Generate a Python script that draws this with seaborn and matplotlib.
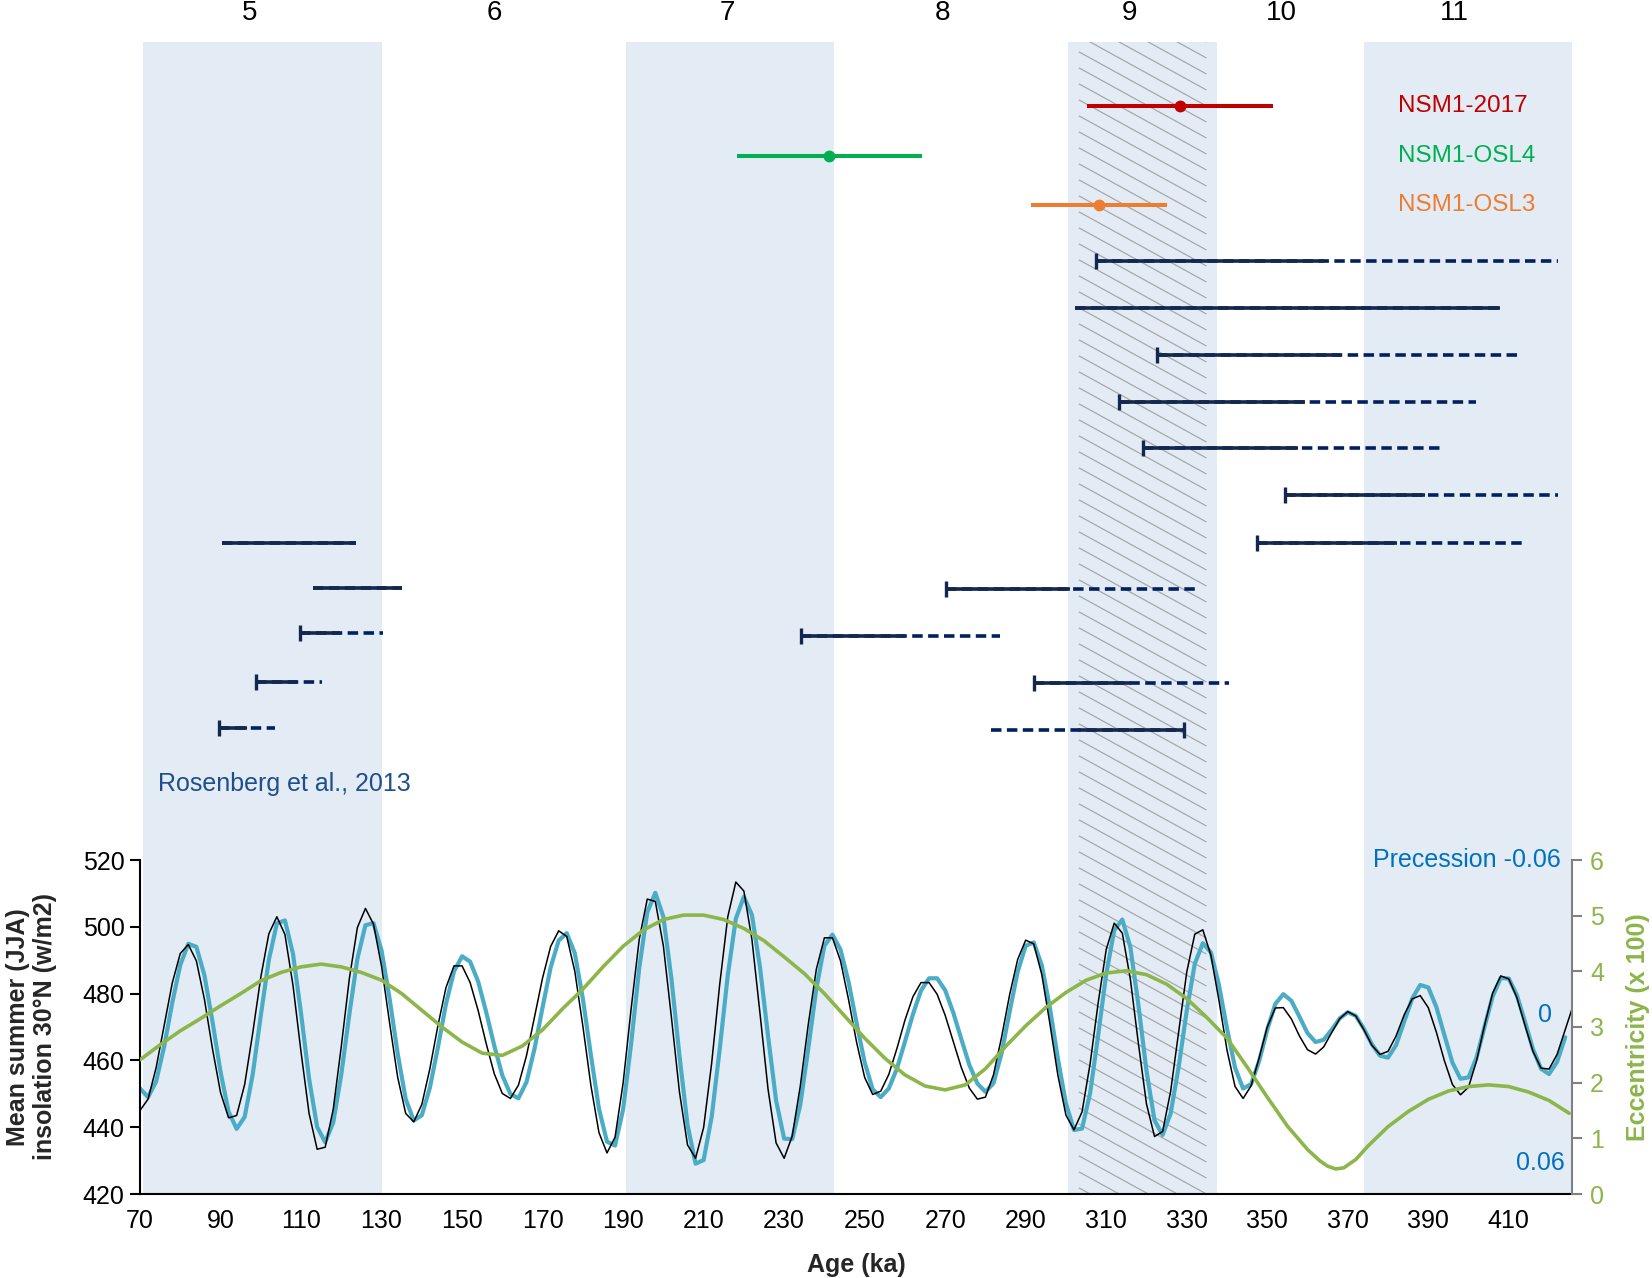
import numpy as np
import pandas as pd
import seaborn as sns
import matplotlib.pyplot as plt
from matplotlib.patches import Rectangle
from matplotlib.collections import LineCollection

sns.set_theme(style='white')
plt.rcParams['font.family'] = ['Liberation Sans', 'DejaVu Sans']

# ---- insolation / orbital data ----
ins_age = np.arange(70, 427, 2)
insolation = [
    445.0, 448.4, 457.8, 470.5, 483.1, 492.0, 494.7, 489.8, 478.3, 463.5,
    450.4, 442.8, 443.5, 452.8, 468.2, 484.9, 497.9, 503.0, 497.7, 482.5,
    462.5, 444.1, 433.4, 434.0, 445.4, 464.2, 484.5, 499.8, 505.5, 500.8,
    488.2, 471.2, 455.0, 444.1, 441.6, 446.8, 457.5, 470.4, 481.8, 488.3,
    488.3, 483.3, 474.9, 465.0, 456.0, 450.1, 448.6, 452.6, 461.4, 473.0,
    484.7, 494.1, 498.8, 497.1, 486.7, 470.3, 452.5, 438.4, 432.3, 437.0,
    453.2, 475.5, 496.2, 508.3, 507.6, 494.3, 472.9, 450.5, 434.7, 430.7,
    439.9, 459.2, 482.8, 503.0, 513.4, 510.7, 496.2, 474.1, 451.4, 435.3,
    430.7, 437.3, 452.2, 470.8, 487.3, 496.7, 496.7, 489.8, 478.2, 465.4,
    454.9, 449.8, 450.8, 455.8, 463.5, 472.0, 479.1, 483.3, 483.3, 479.8,
    473.5, 465.7, 457.9, 451.7, 448.4, 449.0, 455.7, 466.9, 479.6, 490.2,
    496.0, 494.9, 485.7, 471.1, 455.5, 443.6, 439.2, 444.6, 459.0, 477.2,
    493.2, 501.1, 498.1, 484.3, 465.0, 447.0, 437.2, 438.7, 450.7, 468.6,
    486.4, 497.8, 499.1, 491.5, 478.0, 463.1, 452.2, 448.6, 452.4, 460.8,
    470.0, 475.7, 475.8, 472.4, 467.3, 463.2, 461.9, 464.0, 468.3, 472.5,
    474.6, 473.3, 469.2, 464.5, 461.8, 462.7, 467.3, 473.6, 478.4, 479.4,
    475.8, 468.5, 459.9, 452.8, 449.7, 452.0, 459.9, 470.6, 480.2, 485.3,
    484.4, 478.8, 470.6, 462.7, 457.7, 457.4, 461.8, 469.2, 476.5,
]

prec_age = np.arange(70, 425, 2)
precession = [
    0.0221, 0.0252, 0.0196, 0.0070, -0.0086, -0.0223, -0.0299, -0.0288, -0.0186, -0.0020,
    0.0161, 0.0304, 0.0366, 0.0323, 0.0170, -0.0041, -0.0241, -0.0372, -0.0383, -0.0263,
    -0.0049, 0.0186, 0.0359, 0.0414, 0.0343, 0.0170, -0.0046, -0.0245, -0.0366, -0.0373,
    -0.0275, -0.0102, 0.0095, 0.0259, 0.0336, 0.0317, 0.0218, 0.0073, -0.0083, -0.0200,
    -0.0254, -0.0235, -0.0163, -0.0053, 0.0067, 0.0174, 0.0241, 0.0256, 0.0198, 0.0078,
    -0.0071, -0.0214, -0.0311, -0.0337, -0.0265, -0.0102, 0.0101, 0.0294, 0.0412, 0.0426,
    0.0296, 0.0059, -0.0211, -0.0412, -0.0482, -0.0396, -0.0174, 0.0103, 0.0352, 0.0491,
    0.0478, 0.0323, 0.0079, -0.0186, -0.0389, -0.0468, -0.0403, -0.0215, 0.0032, 0.0264,
    0.0401, 0.0403, 0.0280, 0.0077, -0.0138, -0.0292, -0.0332, -0.0278, -0.0162, -0.0014,
    0.0127, 0.0224, 0.0252, 0.0221, 0.0150, 0.0053, -0.0046, -0.0131, -0.0175, -0.0175,
    -0.0132, -0.0052, 0.0043, 0.0136, 0.0203, 0.0233, 0.0202, 0.0095, -0.0054, -0.0198,
    -0.0292, -0.0304, -0.0222, -0.0070, 0.0114, 0.0275, 0.0370, 0.0365, 0.0238, 0.0030,
    -0.0190, -0.0348, -0.0386, -0.0287, -0.0079, 0.0157, 0.0335, 0.0388, 0.0311, 0.0143,
    -0.0058, -0.0227, -0.0301, -0.0268, -0.0151, 0.0005, 0.0146, 0.0221, 0.0205, 0.0122,
    0.0010, -0.0083, -0.0118, -0.0094, -0.0037, 0.0022, 0.0054, 0.0046, 0.0010, -0.0031,
    -0.0053, -0.0040, 0.0006, 0.0062, 0.0103, 0.0110, 0.0065, -0.0019, -0.0102, -0.0151,
    -0.0142, -0.0072, 0.0029, 0.0128, 0.0186, 0.0181, 0.0109, -0.0002, -0.0110, -0.0176,
    -0.0174, -0.0115, -0.0020, 0.0079, 0.0150, 0.0169, 0.0125, 0.0037,
]

ecc_age = [
    70, 75, 80, 85, 90, 95, 100, 105, 110, 115,
    120, 125, 130, 135, 140, 145, 150, 155, 160, 165,
    170, 175, 180, 185, 190, 195, 200, 205, 210, 215,
    220, 225, 230, 235, 240, 245, 250, 255, 260, 265,
    270, 275, 280, 285, 290, 295, 300, 305, 310, 315,
    320, 325, 330, 335, 340, 345, 350, 355, 360, 363,
    365, 367, 369, 372, 375, 380, 385, 390, 395, 400,
    405, 410, 415, 420, 425,
]
eccentricity = [
    2.41, 2.68, 2.93, 3.15, 3.38, 3.60, 3.83, 3.98, 4.08, 4.13,
    4.08, 3.98, 3.84, 3.60, 3.30, 3.00, 2.73, 2.53, 2.49, 2.66,
    2.95, 3.33, 3.68, 4.08, 4.45, 4.74, 4.93, 5.01, 5.01, 4.93,
    4.77, 4.55, 4.26, 3.96, 3.60, 3.20, 2.80, 2.44, 2.14, 1.94,
    1.87, 1.96, 2.25, 2.65, 3.02, 3.35, 3.62, 3.84, 3.97, 4.01,
    3.94, 3.77, 3.51, 3.17, 2.80, 2.28, 1.74, 1.22, 0.80, 0.60,
    0.50, 0.45, 0.47, 0.62, 0.86, 1.21, 1.48, 1.70, 1.85, 1.93,
    1.96, 1.93, 1.83, 1.68, 1.45,
]

# ---- marine isotope stages ----
mis_names = ['5', '6', '7', '8', '9', '10', '11']
mis_label_age = [97.2, 157.9, 215.9, 269.3, 315.9, 353.4, 396.6]
interglacial_lo = [70.8, 190.7, 300.4, 374.0]
interglacial_hi = [130.2, 242.3, 337.6, 426.0]
hatch_lo, hatch_hi = 303.2, 334.9

# ---- dated samples ----
samples = ['NSM1-2017', 'NSM1-OSL4', 'NSM1-OSL3']
sample_age = [328.4, 241.2, 308.2]
sample_min = [305.3, 218.2, 291.2]
sample_max = [351.4, 264.2, 325.2]
sample_row = [0.0, 1.06, 2.12]
sample_colors = ['#c00000', '#00b050', '#ed7d31']

# ---- Rosenberg et al. (2013) speleothem ages ----
ros_row = [3.32, 4.31, 5.32, 6.32, 7.31, 8.33, 9.34, 9.34,
           10.31, 10.33, 11.27, 11.35, 12.33, 12.35, 13.32, 13.35]
ros_solid_lo = [307.4, 302.2, 322.6, 313.2, 319.2, 354.3, 90.4, 347.5,
                112.9, 270.3, 109.7, 234.1, 98.8, 292.1, 89.7, 303.1]
ros_solid_hi = [364.2, 407.7, 368.2, 359.3, 357.7, 389.1, 123.6, 382.3,
                135.1, 301.0, 119.6, 260.0, 108.9, 316.3, 96.5, 329.3]
ros_dash_lo = [307.4, 302.2, 322.6, 313.2, 319.2, 354.3, 90.4, 347.5,
               112.9, 270.3, 109.7, 234.1, 98.8, 292.1, 89.7, 281.3]
ros_dash_hi = [422.1, 407.7, 412.2, 401.9, 393.8, 422.1, 123.6, 413.7,
               135.1, 332.3, 130.3, 283.6, 115.3, 340.5, 103.5, 329.3]
ros_cap = [307.4, np.nan, 322.6, 313.2, 319.2, 354.3, np.nan, 347.5,
           np.nan, 270.3, 109.7, 234.1, 98.8, 292.1, 89.7, 329.3]

# ---- colours ----
band_color = '#e3ebf5'
navy = '#002060'
navy_dark = '#14284e'
ins_color = 'black'
prec_color = '#4bacc6'
ecc_color = '#8cb54a'
prec_text = '#0070c0'

W, H = 1652, 1278
fig = plt.figure(figsize=(W / 100, H / 100), dpi=100)
x0, x1 = 140, 1572
top_y, mid_y, bot_y = 42, 860, 1194
xlim = (70, 425.7)

def frac(ytop, ybot):
    return [x0 / W, 1 - ybot / H, (x1 - x0) / W, (ybot - ytop) / H]

# background: interglacial bands and hatching across both panels
ax_bg = fig.add_axes(frac(top_y, bot_y), zorder=-1)
ax_bg.set_xlim(*xlim)
ax_bg.set_ylim(0, 1)
ax_bg.axis('off')
for lo, hi in zip(interglacial_lo, interglacial_hi):
    ax_bg.axvspan(lo, hi, color=band_color, lw=0)
px_per_ka = (x1 - x0) / (xlim[1] - xlim[0])
hpx = bot_y - top_y
drop = 0.55 * px_per_ka / hpx
spacing = 16 / hpx
segs = []
for y in np.arange(1 + drop * (hatch_hi - hatch_lo), -spacing, -spacing):
    segs.append([(hatch_lo, y), (hatch_hi, y - drop * (hatch_hi - hatch_lo))])
lc = LineCollection(segs, colors='#a8a8a8', linewidths=0.9)
clip = Rectangle((hatch_lo, 0), hatch_hi - hatch_lo, 1, transform=ax_bg.transData)
lc.set_clip_path(clip)
ax_bg.add_collection(lc)

# ---- top panel: age ranges ----
ax_top = fig.add_axes(frac(top_y, mid_y))
ax_top.patch.set_visible(False)
ax_top.set_xlim(*xlim)
r_unit = 46.7
ax_top.set_ylim((mid_y - 106.4) / r_unit, (top_y - 106.4) / r_unit)
ax_top.axis('off')

for name, x in zip(mis_names, mis_label_age):
    ax_top.text(x, 1.036, name, transform=ax_top.get_xaxis_transform(),
                ha='center', va='center', fontsize=20, color='black')

for i, name in enumerate(samples):
    ax_top.errorbar(sample_age[i], sample_row[i],
                    xerr=[[sample_age[i] - sample_min[i]], [sample_max[i] - sample_age[i]]],
                    fmt='o', color=sample_colors[i], ms=7.5, elinewidth=2.9, capsize=0)
    ax_top.text(382.5, sample_row[i], name, color=sample_colors[i],
                fontsize=17.5, ha='left', va='center')

for r, dl, dh, sl, sh, c in zip(ros_row, ros_dash_lo, ros_dash_hi,
                                ros_solid_lo, ros_solid_hi, ros_cap):
    ax_top.plot([dl, dh], [r, r], color=navy, lw=2.6, ls=(0, (2.9, 1.5)),
                solid_capstyle='butt', dash_capstyle='butt')
    ax_top.plot([sl, sh], [r, r], color=navy_dark, lw=2.6, solid_capstyle='butt')
    if not np.isnan(c):
        ax_top.plot([c], [r], marker='|', ms=12, mew=2.4, color=navy_dark)

ax_top.text(74.5, 14.51, 'Rosenberg et al., 2013', color='#1f4e8c',
            fontsize=18, ha='left', va='center')

# ---- bottom panel: insolation, precession, eccentricity ----
ax = fig.add_axes(frac(mid_y, bot_y), zorder=2)
ax.patch.set_visible(False)
ax_p = ax.twinx()
ax_p.set_zorder(1)
ax_e = ax.twinx()
ax_e.set_zorder(3)

ins_df = pd.DataFrame({'age': ins_age, 'insolation': insolation})
prec_df = pd.DataFrame({'age': prec_age, 'precession': precession})
ecc_df = pd.DataFrame({'age': ecc_age, 'eccentricity': eccentricity})

sns.lineplot(data=prec_df, x='age', y='precession', ax=ax_p, color=prec_color, lw=3.0)
sns.lineplot(data=ins_df, x='age', y='insolation', ax=ax, color=ins_color, lw=1.1)
sns.lineplot(data=ecc_df, x='age', y='eccentricity', ax=ax_e, color=ecc_color, lw=2.6)

ax.set_xlim(*xlim)
ax.set_ylim(420, 520)
ax_p.set_ylim(0.06, -0.06)
ax_e.set_ylim(0, 6)

ax.set_xticks(np.arange(70, 411, 20))
ax.set_xticks(np.arange(80, 421, 20), minor=True)
ax.set_yticks(np.arange(420, 521, 20))
ax.tick_params(axis='both', which='both', direction='out', length=7, width=1.5,
               labelsize=18, colors='black', pad=4)
ax.tick_params(axis='both', which='minor', length=7)
for s in ['top', 'right']:
    ax.spines[s].set_visible(False)
for s in ['left', 'bottom']:
    ax.spines[s].set_color('black')
    ax.spines[s].set_linewidth(1.5)

ax_p.axis('off')

for s in ['top', 'left', 'bottom']:
    ax_e.spines[s].set_visible(False)
ax_e.spines['right'].set_color('#808080')
ax_e.spines['right'].set_linewidth(1.5)
ax_e.set_yticks(range(0, 7))
ax_e.tick_params(axis='y', direction='out', length=7, width=1.5, color='#808080',
                 labelcolor=ecc_color, labelsize=18, pad=6)
ax_e.set_ylabel('Eccentricity (x 100)', color=ecc_color, fontsize=18,
                fontweight='bold', labelpad=16)

ax.set_xlabel('Age (ka)', fontsize=18, fontweight='bold', labelpad=14)
ax.set_ylabel('Mean summer (JJA)\ninsolation 30°N (w/m2)', fontsize=18,
              fontweight='bold', linespacing=1.15)
ax.yaxis.set_label_coords(-0.058, 0.5)
ax_p.set_xlabel('')
ax_p.set_ylabel('')

ax.text(423, 520, 'Precession -0.06', color=prec_text, fontsize=18,
        ha='right', va='center')
ax.text(419, 473.6, '0', color=prec_text, fontsize=18, ha='center', va='center')
ax.text(424, 429.3, '0.06', color=prec_text, fontsize=18, ha='right', va='center')

fig.savefig('out.png', dpi=100)
